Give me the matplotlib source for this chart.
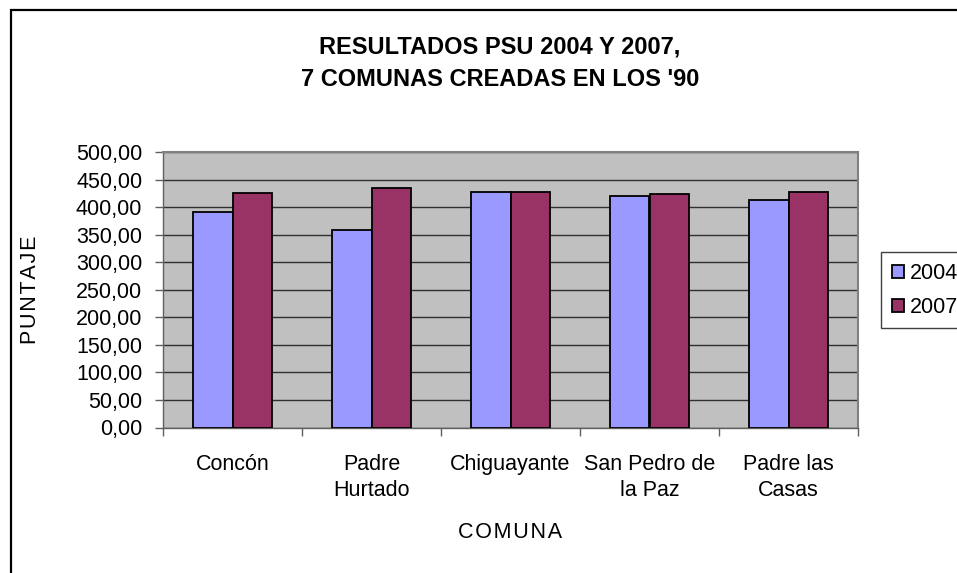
import matplotlib.pyplot as plt
import matplotlib.patches as mpatches
import numpy as np

plt.rcParams['font.family'] = ['Liberation Sans', 'DejaVu Sans']

comunas = ["Concón", "Padre\nHurtado", "Chiguayante", "San Pedro de\nla Paz", "Padre las\nCasas"]
psu_2004 = [391.5, 358.7, 427.3, 420.0, 412.7]
psu_2007 = [424.8, 434.5, 427.3, 424.0, 427.0]
y_ticks = [0, 50, 100, 150, 200, 250, 300, 350, 400, 450, 500]

W, H = 957, 573
fig = plt.figure(figsize=(W / 100, H / 100), dpi=100)
ax = fig.add_axes([163 / W, 1 - 427.5 / H, (858 - 163) / W, (427.5 - 152) / H])

# outer chart frame (right and bottom edges fall outside the picture)
fig.patches.append(mpatches.Rectangle((11 / W, -0.05), 1.0, 1 - 10 / H + 0.05,
                                      transform=fig.transFigure, fill=False,
                                      edgecolor="black", linewidth=1.6))

x = np.arange(len(comunas))
w = 1 / 3.5
ax.bar(x - w / 2, psu_2004, w, color="#9999FF", edgecolor="black", linewidth=1.3,
       label="2004", zorder=3)
ax.bar(x + w / 2, psu_2007, w, color="#993366", edgecolor="black", linewidth=1.3,
       label="2007", zorder=3)

ax.set_facecolor("#C0C0C0")
ax.set_xlim(-0.5, len(comunas) - 0.5)
ax.set_ylim(0, 500)
ax.set_yticks(y_ticks)
ax.set_yticklabels([f"{v:.2f}".replace(".", ",") for v in y_ticks], fontsize=15.5)
ax.yaxis.grid(True, color="#303030", linewidth=1.0, zorder=1)
ax.set_axisbelow(True)

ax.set_xticks(x)
ax.set_xticklabels(comunas, fontsize=15.5, linespacing=1.3)
ax.tick_params(axis="x", length=0, pad=19)
ax.set_xticks(np.arange(len(comunas) + 1) - 0.5, minor=True)
ax.tick_params(axis="x", which="minor", length=6, color="#606060", width=1)
ax.tick_params(axis="y", length=6, color="#606060", width=1, pad=9)

for side in ["top", "right"]:
    ax.spines[side].set_color("#808080")
    ax.spines[side].set_linewidth(1.5)
for side in ["left", "bottom"]:
    ax.spines[side].set_color("#606060")
    ax.spines[side].set_linewidth(1.0)

hair = "\u200a"
ax.set_ylabel(hair.join("PUNTAJE"), fontsize=15.5, va="center")
ax.yaxis.set_label_coords((30 - 163) / 695, 0.5)
ax.set_xlabel(hair.join("COMUNA"), fontsize=15.5, va="center")
ax.xaxis.set_label_coords(0.5, -(533 - 427.5) / 275.5)

fig.text(500 / W, 1 - 47 / H, "RESULTADOS PSU 2004 Y 2007,", ha="center", va="center",
         fontsize=17, fontweight="bold")
fig.text(500 / W, 1 - 80 / H, "7 COMUNAS CREADAS EN LOS '90", ha="center", va="center",
         fontsize=17, fontweight="bold")

leg = fig.legend(loc="upper left", bbox_to_anchor=(881 / W, 1 - 252 / H), fontsize=15.5,
                 handlelength=0.55, handleheight=0.55, handletextpad=0.3,
                 labelspacing=0.6, borderpad=0.5, borderaxespad=0, fancybox=False,
                 framealpha=1)
leg.get_frame().set_edgecolor("#404040")
leg.get_frame().set_linewidth(1.0)

fig.savefig("out.png", dpi=100)
